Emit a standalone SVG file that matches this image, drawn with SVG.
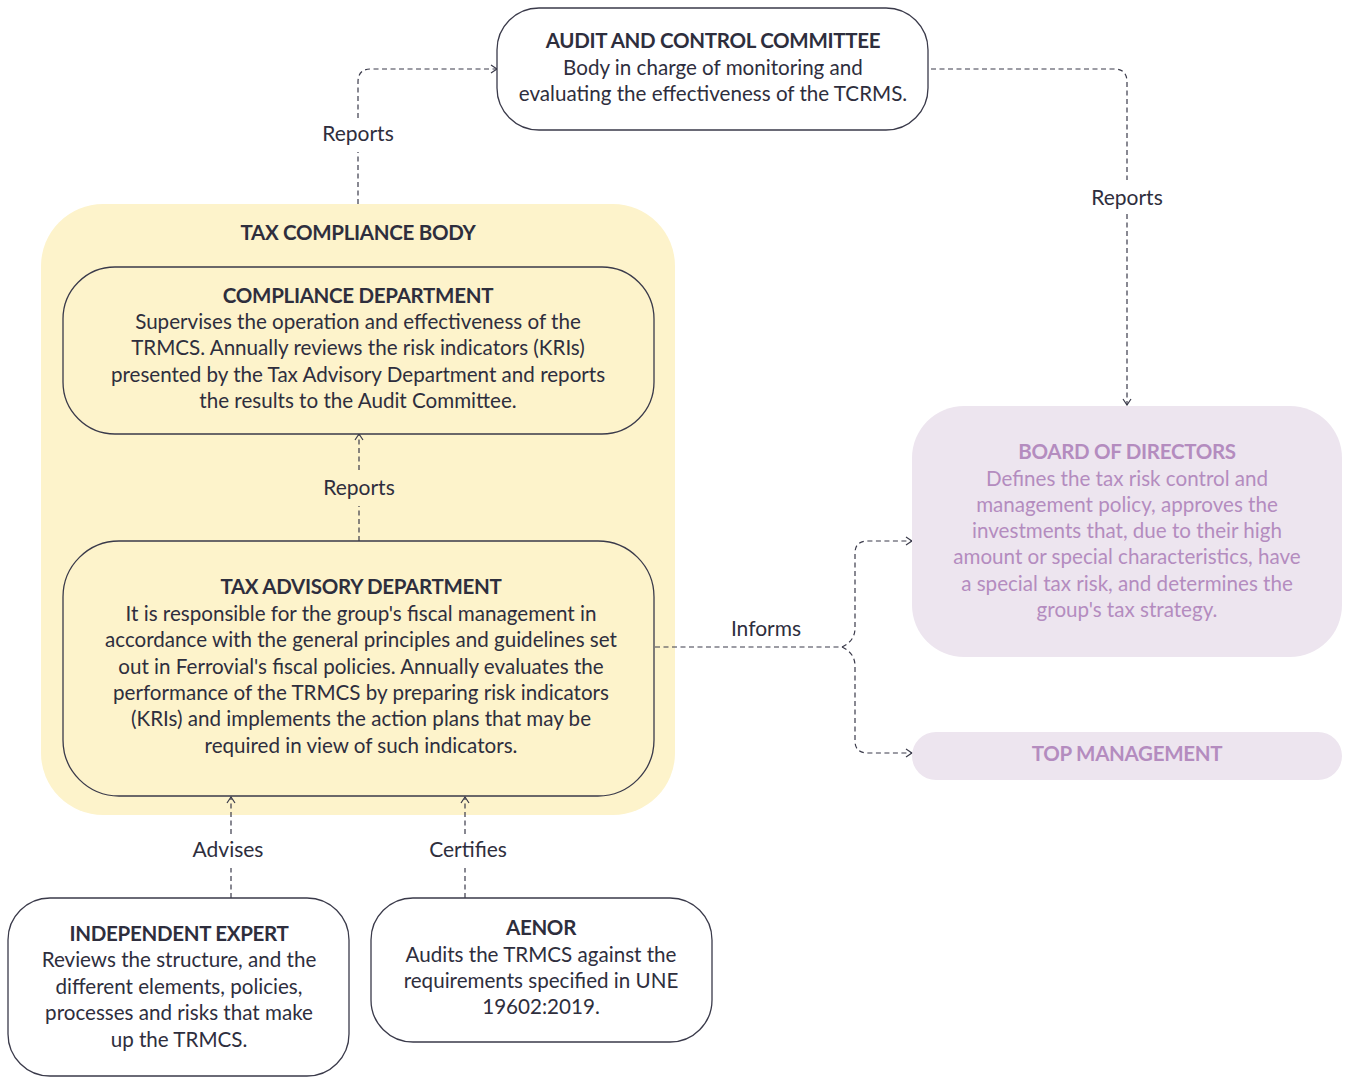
<svg xmlns="http://www.w3.org/2000/svg" width="1345" height="1077" viewBox="0 0 1345 1077">
<style>
text{font-family:Lato,"Open Sans","Liberation Sans",sans-serif;text-anchor:middle;fill:#2e2e3d}
.t{font-size:20.5px;font-weight:700;letter-spacing:-0.3px}
.b{font-size:20.6px}
.l{font-size:21px}
.p{fill:#b48cbf}
.box{fill:#fff;stroke:#3a3a4a;stroke-width:1.3}
.ybox{fill:#fdf3cb;stroke:#3a3a4a;stroke-width:1.3}
.pbox{fill:#ede5ef}
.c{fill:none;stroke:#3a3a4a;stroke-width:1.2;stroke-dasharray:5 3.5}
</style>
<defs>
<marker id="a" viewBox="0 0 8 10" refX="7" refY="5" markerWidth="8" markerHeight="10" markerUnits="userSpaceOnUse" orient="auto">
<path d="M1,1 L7,5 L1,9" fill="none" stroke="#3a3a4a" stroke-width="1.2"/>
</marker>
</defs>
<rect x="0" y="0" width="1345" height="1077" fill="#fff"/>
<g id="tax-compliance-body">
<rect x="41" y="204" width="634" height="611" rx="62" fill="#fdf3cb"/>
<text class="t" x="358" y="240">TAX COMPLIANCE BODY</text>
</g>
<g id="connectors">
<path class="c" d="M358,204 V152 M358,118 V82 Q358,69 371,69 H497" marker-end="url(#a)"/>
<path class="c" d="M931,69 H1114 Q1127,69 1127,82 V180 M1127,214 V405" marker-end="url(#a)"/>
<path class="c" d="M359,541 V506 M359,470 V434" marker-end="url(#a)"/>
<path class="c" d="M655,647 H842"/>
<path class="c" d="M842,647 Q855,641 855,628 V553 Q855,541 868,541 H912" marker-end="url(#a)"/>
<path class="c" d="M842,647 Q855,653 855,666 V741 Q855,753 868,753 H912" marker-end="url(#a)"/>
<path class="c" d="M231,898 V868 M231,834 V797" marker-end="url(#a)"/>
<path class="c" d="M465,898 V868 M465,834 V797" marker-end="url(#a)"/>
<text class="l" x="358" y="141">Reports</text>
<text class="l" x="1127" y="205">Reports</text>
<text class="l" x="359" y="495">Reports</text>
<text class="l" x="766" y="636">Informs</text>
<text class="l" x="228" y="857">Advises</text>
<text class="l" x="468" y="857">Certifies</text>
</g>
<g id="audit-committee">
<rect class="box" x="497" y="8" width="431" height="122" rx="42"/>
<text class="t" x="713" y="48">AUDIT AND CONTROL COMMITTEE</text>
<text class="b" x="713" y="75">Body in charge of monitoring and</text>
<text class="b" x="713" y="101">evaluating the effectiveness of the TCRMS.</text>
</g>
<g id="compliance-department">
<rect class="ybox" x="63" y="267" width="591" height="167" rx="52"/>
<text class="t" x="358" y="303">COMPLIANCE DEPARTMENT</text>
<text class="b" x="358" y="329">Supervises the operation and effectiveness of the</text>
<text class="b" x="358" y="355">TRMCS. Annually reviews the risk indicators (KRIs)</text>
<text class="b" x="358" y="382">presented by the Tax Advisory Department and reports</text>
<text class="b" x="358" y="408">the results to the Audit Committee.</text>
</g>
<g id="tax-advisory-department">
<rect class="ybox" x="63" y="541" width="591" height="255" rx="56"/>
<text class="t" x="361" y="594">TAX ADVISORY DEPARTMENT</text>
<text class="b" x="361" y="621">It is responsible for the group's fiscal management in</text>
<text class="b" x="361" y="647">accordance with the general principles and guidelines set</text>
<text class="b" x="361" y="674">out in Ferrovial's fiscal policies. Annually evaluates the</text>
<text class="b" x="361" y="700">performance of the TRMCS by preparing risk indicators</text>
<text class="b" x="361" y="726">(KRIs) and implements the action plans that may be</text>
<text class="b" x="361" y="753">required in view of such indicators.</text>
</g>
<g id="board-of-directors">
<rect class="pbox" x="912" y="406" width="430" height="251" rx="52"/>
<text class="t p" x="1127" y="459">BOARD OF DIRECTORS</text>
<text class="b p" x="1127" y="486">Defines the tax risk control and</text>
<text class="b p" x="1127" y="512">management policy, approves the</text>
<text class="b p" x="1127" y="538">investments that, due to their high</text>
<text class="b p" x="1127" y="564">amount or special characteristics, have</text>
<text class="b p" x="1127" y="591">a special tax risk, and determines the</text>
<text class="b p" x="1127" y="617">group's tax strategy.</text>
</g>
<g id="top-management">
<rect class="pbox" x="912" y="732" width="430" height="48" rx="24"/>
<text class="t p" x="1127" y="761">TOP MANAGEMENT</text>
</g>
<g id="independent-expert">
<rect class="box" x="8" y="898" width="341" height="178" rx="42"/>
<text class="t" x="179" y="941">INDEPENDENT EXPERT</text>
<text class="b" x="179" y="967">Reviews the structure, and the</text>
<text class="b" x="179" y="994">different elements, policies,</text>
<text class="b" x="179" y="1020">processes and risks that make</text>
<text class="b" x="179" y="1047">up the TRMCS.</text>
</g>
<g id="aenor">
<rect class="box" x="371" y="898" width="341" height="144" rx="42"/>
<text class="t" x="541" y="935">AENOR</text>
<text class="b" x="541" y="962">Audits the TRMCS against the</text>
<text class="b" x="541" y="988">requirements specified in UNE</text>
<text class="b" x="541" y="1014">19602:2019.</text>
</g>
</svg>
